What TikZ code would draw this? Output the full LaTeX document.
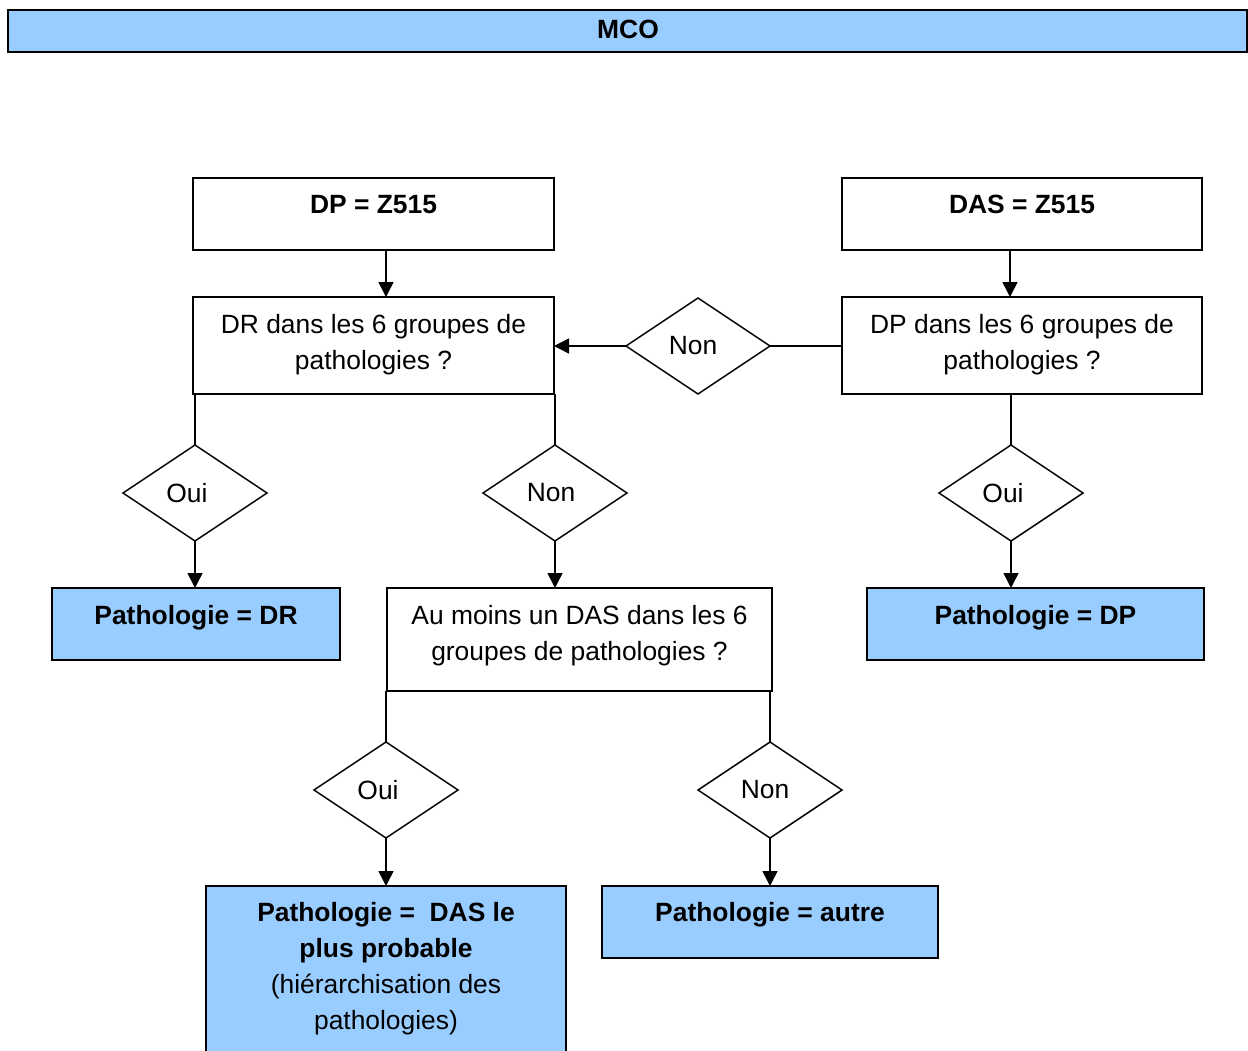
\documentclass[tikz,border=0pt]{standalone}
\usepackage{fontspec}
\setmainfont{Liberation Sans}
\usetikzlibrary{arrows.meta,shapes.geometric}
\definecolor{boxblue}{HTML}{99CCFF}
\begin{document}
\begin{tikzpicture}[x=1pt,y=-1pt,
  every node/.style={inner sep=0pt,outer sep=0pt},
  box/.style={draw,line width=1.5pt,rectangle},
  bluebox/.style={box,fill=boxblue},
  txt/.style={anchor=north,align=center,font=\fontsize{26.4}{36}\selectfont},
  btxt/.style={txt,font=\fontsize{26.4}{36}\selectfont\bfseries},
  dia/.style={draw,line width=1.5pt,diamond,minimum width=144pt,minimum height=96pt,font=\fontsize{26.4}{36}\selectfont},
  conn/.style={line width=1.5pt},
  arr/.style={conn,-{Triangle[length=15pt,width=15pt]}}]
\useasboundingbox (0,0) rectangle (1248,1050);
\begin{scope}
\clip (0,0) rectangle (1248,1050);
% title bar
\node[draw,line width=2.5pt,fill=boxblue,minimum width=1239pt,minimum height=42pt] (mco) at (627.5,31) {};
\node[anchor=base,font=\fontsize{26.4}{36}\selectfont\bfseries] (mcoT) at (628,38) {MCO};
% boxes
\node[box,minimum width=361pt,minimum height=72pt] (dpz) at (373.5,214) {};
\node[box,minimum width=360pt,minimum height=72pt] (dasz) at (1022,214) {};
\node[box,minimum width=361pt,minimum height=97pt] (dr) at (373.5,345.5) {};
\node[box,minimum width=360pt,minimum height=97pt] (dpq) at (1022,345.5) {};
\node[bluebox,minimum width=288pt,minimum height=72pt] (pdr) at (196,624) {};
\node[box,minimum width=385pt,minimum height=103pt] (au) at (579.5,639.5) {};
\node[bluebox,minimum width=337pt,minimum height=72pt] (pdp) at (1035.5,624) {};
\node[bluebox,minimum width=360pt,minimum height=184pt] (pdas) at (386,978) {};
\node[bluebox,minimum width=336pt,minimum height=72pt] (paut) at (770,922) {};
% texts
\node[btxt] (dpzT) at ([yshift=-10.3pt]dpz.north) {\strut DP = Z515};
\node[btxt] (daszT) at ([yshift=-10.3pt]dasz.north) {\strut DAS = Z515};
\node[txt] (drT) at ([yshift=-10.8pt]dr.north) {\strut DR dans les 6 groupes de\\pathologies ?};
\node[txt] (dpqT) at ([yshift=-10.8pt]dpq.north) {\strut DP dans les 6 groupes de\\pathologies ?};
\node[btxt] (pdrT) at ([yshift=-10.8pt]pdr.north) {\strut Pathologie = DR};
\node[txt] (auT) at ([yshift=-10.8pt]au.north) {\strut Au moins un DAS dans les 6\\groupes de pathologies ?};
\node[btxt] (pdpT) at ([yshift=-10.8pt]pdp.north) {\strut Pathologie = DP};
\node[txt] (pdasT) at ([yshift=-10.3pt]pdas.north) {\strut\textbf{Pathologie =\ \ DAS le}\\\textbf{plus probable}\\(hiérarchisation des\\pathologies)};
\node[btxt] (pautT) at ([yshift=-10.3pt]paut.north) {\strut Pathologie = autre};
% diamonds
\node[dia] (dmid) at (698,346) {\raisebox{-2pt}{\hspace*{-10pt}Non}};
\node[dia] (oui1) at (195,493) {\hspace*{-16pt}Oui};
\node[dia] (non1) at (555,493) {\hspace*{-8pt}Non};
\node[dia] (oui2) at (1011,493) {\hspace*{-16pt}Oui};
\node[dia] (oui3) at (386,790) {\hspace*{-16pt}Oui};
\node[dia] (non3) at (770,790) {\hspace*{-10pt}Non};
% connectors
\draw[arr] ([xshift=12.5pt]dpz.south) -- ([xshift=12.5pt]dr.north);
\draw[arr] ([xshift=-12pt]dasz.south) -- ([xshift=-12pt]dpq.north);
\draw[arr] (dmid.west) -- (dmid.west -| dr.east);
\draw[conn] (dpq.west |- dmid.east) -- (dmid.east);
\draw[conn] (oui1.north |- dr.south) -- (oui1.north);
\draw[arr] (oui1.south) -- (oui1.south |- pdr.north);
\draw[conn] (non1.north |- dr.south) -- (non1.north);
\draw[arr] (non1.south) -- (non1.south |- au.north);
\draw[conn] (oui2.north |- dpq.south) -- (oui2.north);
\draw[arr] (oui2.south) -- (oui2.south |- pdp.north);
\draw[conn] (oui3.north |- au.south) -- (oui3.north);
\draw[arr] (oui3.south) -- (oui3.south |- pdas.north);
\draw[conn] (non3.north |- au.south) -- (non3.north);
\draw[arr] (non3.south) -- (non3.south |- paut.north);
\end{scope}
\end{tikzpicture}
\end{document}
